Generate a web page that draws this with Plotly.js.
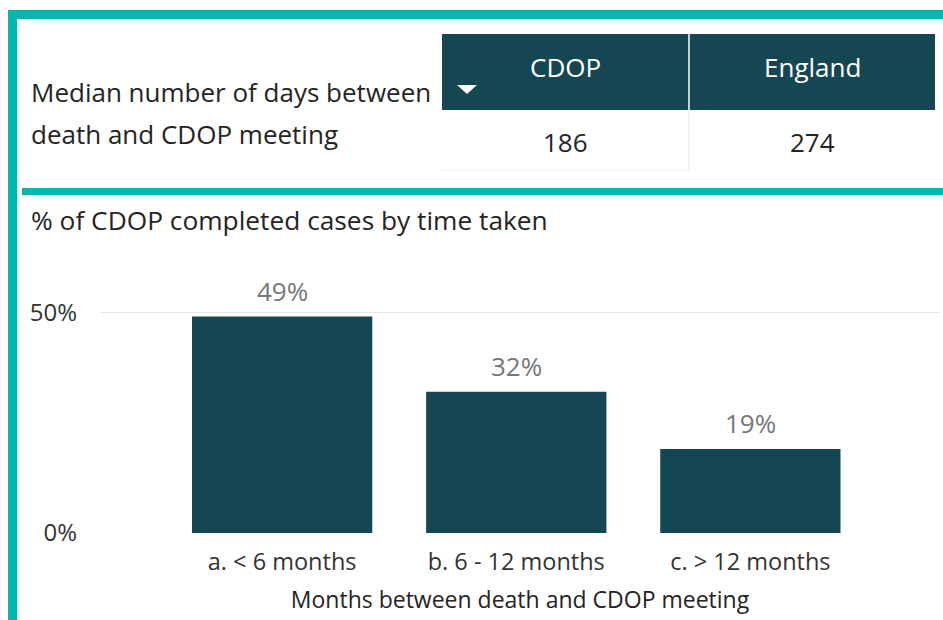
<!DOCTYPE html>
<html>
<head>
<meta charset="utf-8">
<script src="https://cdn.plot.ly/plotly-3.0.1.min.js"></script>
<style>html,body{margin:0;padding:0;background:#fff;}#chart{width:943px;height:620px;}</style>
</head>
<body>
<div id="chart"></div>
<script>
// ---- data ----
var tableColumns = ["CDOP", "England"];
var tableValues = [186, 274];
var tableRowLabelLines = ["Median number of days between", "death and CDOP meeting"];
var categories = ["a. < 6 months", "b. 6 - 12 months", "c. > 12 months"];
var percents = [0.49, 0.32, 0.19];
var yTickVals = [0, 0.5];
var yTickText = ["0%", "50%"];
var chartTitle = "% of CDOP completed cases by time taken";
var xTitle = "Months between death and CDOP meeting";

// ---- helpers (pixel -> paper) ----
var W = 943, H = 620;
function px(x){ return x / W; }
function py(y){ return 1 - y / H; }

var FONT = "Open Sans, Noto Sans, sans-serif";
var TEAL = "#01B8AA";
var DARK = "#154753";
var TEXT = "#252423";

var bar = {
  type: "bar",
  x: categories,
  y: percents,
  marker: {color: DARK},
  width: 0.77,
  hoverinfo: "none"
};

var annotations = percents.map(function(v, i){
  return {
    x: categories[i], y: v, xref: "x", yref: "y",
    text: Math.round(v * 100) + "%",
    showarrow: false, yanchor: "middle", yshift: 26,
    font: {family: FONT, size: 26, color: "#777777"}
  };
});
tableRowLabelLines.forEach(function(t, i){
  annotations.push({
    x: px(29), y: py(92 + i * 42), xref: "paper", yref: "paper", xanchor: "left", yanchor: "middle",
    text: t, showarrow: false,
    font: {family: FONT, size: 26, color: TEXT}
  });
});
annotations.push({
  x: px(29), y: py(220), xref: "paper", yref: "paper", xanchor: "left", yanchor: "middle",
  text: chartTitle, showarrow: false,
  font: {family: FONT, size: 26.3, color: TEXT}
});

// table built from arrays: header cells + value cells
var colLeft = [442, 690], colRight = [688, 935];
var shapes = [];
tableColumns.forEach(function(c, i){
  shapes.push({type: "rect", xref: "paper", yref: "paper",
    x0: px(colLeft[i]), x1: px(colRight[i]), y0: py(110), y1: py(34),
    fillcolor: DARK, line: {width: 0}});
  annotations.push({x: px((colLeft[i] + colRight[i]) / 2), y: py(67), xref: "paper", yref: "paper",
    xanchor: "center", yanchor: "middle", text: c, showarrow: false,
    font: {family: FONT, size: 26, color: "#ffffff"}});
  annotations.push({x: px((colLeft[i] + colRight[i]) / 2), y: py(142), xref: "paper", yref: "paper",
    xanchor: "center", yanchor: "middle", text: String(tableValues[i]), showarrow: false,
    font: {family: FONT, size: 26, color: TEXT}});
});
// header separator and cell separators
shapes.push({type: "rect", xref: "paper", yref: "paper", x0: px(688), x1: px(690), y0: py(110), y1: py(34), fillcolor: "#c8cfd1", line: {width: 0}});
shapes.push({type: "line", xref: "paper", yref: "paper", x0: px(689), x1: px(689), y0: py(170), y1: py(110), line: {color: "#e6e6e6", width: 1}});
shapes.push({type: "line", xref: "paper", yref: "paper", x0: px(442), x1: px(689), y0: py(170), y1: py(170), line: {color: "#f2f2f2", width: 1}});
// sort triangle
shapes.push({type: "path", xref: "paper", yref: "paper",
  path: "M " + px(457) + "," + py(85) + " L " + px(477) + "," + py(85) + " L " + px(467) + "," + py(94) + " Z",
  fillcolor: "#ffffff", line: {width: 0}});
// teal frame
shapes.push({type: "rect", xref: "paper", yref: "paper", x0: px(8), x1: px(943), y0: py(10), y1: py(19), fillcolor: TEAL, line: {width: 0}});
shapes.push({type: "rect", xref: "paper", yref: "paper", x0: px(8), x1: px(17), y0: py(10), y1: py(620), fillcolor: TEAL, line: {width: 0}});
shapes.push({type: "rect", xref: "paper", yref: "paper", x0: px(22), x1: px(943), y0: py(188), y1: py(195), fillcolor: TEAL, line: {width: 0}});

var layout = {
  width: W, height: H,
  margin: {l: 0, r: 0, t: 0, b: 0},
  paper_bgcolor: "#ffffff", plot_bgcolor: "#ffffff",
  showlegend: false,
  font: {family: FONT, color: TEXT},
  xaxis: {
    domain: [px(100), px(940)],
    range: [-0.778, 2.81],
    type: "category",
    showgrid: false, zeroline: false, showline: false,
    ticks: "", ticklabelstandoff: 12,
    tickfont: {family: FONT, size: 23.5, color: "#333333"},
    title: {text: xTitle, standoff: 16, font: {family: FONT, size: 23, color: TEXT}},
    automargin: false, fixedrange: true
  },
  yaxis: {
    domain: [py(533), py(268)],
    range: [0, 0.6],
    tickvals: yTickVals, ticktext: yTickText,
    showgrid: true, gridcolor: "#e6e6e6", gridwidth: 1,
    zeroline: false, showline: false, ticks: "",
    ticklabelstandoff: 22,
    tickfont: {family: FONT, size: 24, color: "#333333"},
    automargin: false, fixedrange: true
  },
  shapes: shapes,
  annotations: annotations
};

Plotly.newPlot("chart", [bar], layout, {displayModeBar: false, staticPlot: true});
</script>
</body>
</html>
